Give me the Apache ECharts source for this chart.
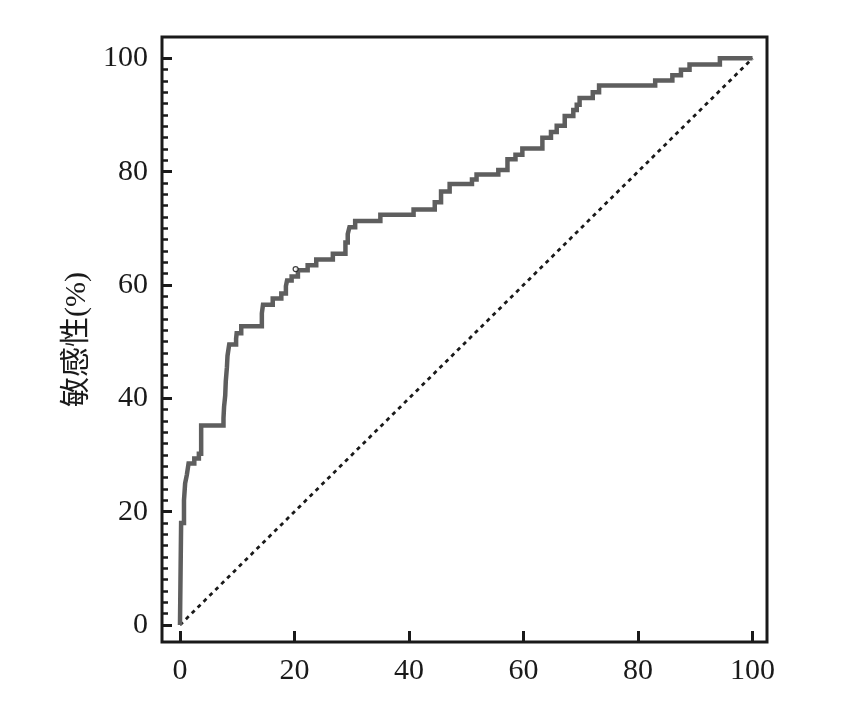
<!DOCTYPE html>
<html>
<head>
<meta charset="utf-8">
<script src="https://cdn.jsdelivr.net/npm/echarts@6/dist/echarts.min.js"></script>
<style>
html,body{margin:0;padding:0;background:#fff;}
#chart{width:842px;height:708px;}
</style>
</head>
<body>
<div id="chart"></div>
<script>
// False positive rate (1 - specificity, %) at the left end of each plateau
const fprValues = [0, 0.2, 0.7, 0.9, 1.2, 1.5, 2.5, 3.3, 3.7, 7.6, 7.7, 7.9, 8.0, 8.2, 8.3, 8.6, 9.8, 9.9, 10.7, 14.3, 14.5, 16.2, 17.7, 18.5, 18.7, 19.5, 20.6, 22.3, 23.8, 26.7, 28.9, 29.3, 29.6, 30.6, 35.0, 40.8, 44.5, 45.6, 47.1, 51.0, 51.8, 55.6, 57.2, 58.6, 59.8, 63.3, 64.8, 65.8, 67.2, 68.7, 69.3, 69.8, 72.1, 73.2, 83.0, 86.0, 87.5, 89.0, 94.3, 100];
// Sensitivity (%) of each plateau
const tprValues = [0, 18, 22, 25, 26.5, 28.5, 29.4, 30.2, 35.2, 36.5, 38.5, 40.5, 43, 45.5, 47.5, 49.5, 50.5, 51.5, 52.7, 55, 56.5, 57.6, 58.5, 59.8, 60.8, 61.5, 62.6, 63.5, 64.5, 65.5, 67.5, 69, 70.2, 71.3, 72.4, 73.3, 74.6, 76.5, 77.8, 78.6, 79.5, 80.3, 82.2, 83.0, 84.1, 86, 87, 88.1, 89.8, 90.9, 91.8, 93.0, 94, 95.2, 96.1, 97, 98, 98.9, 100, 100];
// Reference (chance) line
const diagonalX = [0, 100];
const diagonalY = [0, 100];
// Marked cut-off point
const cutoffPoint = [20.2, 62.8];
// Tick values
const majorTicks = [0, 20, 40, 60, 80, 100];
const yMinorTicks = [2, 4, 6, 8, 10, 12, 14, 16, 18, 22, 24, 26, 28, 30, 32, 34, 36, 38, 42, 44, 46, 48, 50, 52, 54, 56, 58, 62, 64, 66, 68, 70, 72, 74, 76, 78, 82, 84, 86, 88, 90, 92, 94, 96, 98];
const yAxisTitle = '敏感性(%)';

const rocData = fprValues.map((x, i) => [x, tprValues[i]]);
const diagData = diagonalX.map((x, i) => [x, diagonalY[i]]);

const serif = "'Liberation Serif', 'Times New Roman', 'Noto Sans CJK SC', serif";
const ink = '#1a1a1a';
// frame extents (axis box extends slightly beyond 0..100)
const xExt = [-3.14, 102.53];
const yExt = [-3.0, 103.76];

const chart = echarts.init(document.getElementById('chart'), null, {renderer: 'canvas'});
chart.setOption({
  backgroundColor: '#fff',
  animation: false,
  grid: [
    {left: 162, top: 37, width: 605, height: 605, show: true, borderWidth: 3, borderColor: ink, backgroundColor: 'transparent'}
  ],
  xAxis: [
    {
      type: 'value', min: xExt[0], max: xExt[1], position: 'bottom',
      axisLine: {show: false, onZero: false},
      axisTick: {show: true, inside: true, length: 11, customValues: majorTicks, lineStyle: {color: ink, width: 3}},
      splitLine: {show: false},
      axisLabel: {show: true, margin: 14, customValues: majorTicks, color: ink, fontSize: 30, fontFamily: serif}
    }
  ],
  yAxis: [
    {
      type: 'value', min: yExt[0], max: yExt[1], position: 'left', offset: 0,
      axisLine: {show: false, onZero: false},
      axisTick: {show: true, inside: true, length: 10, customValues: majorTicks, lineStyle: {color: ink, width: 3}},
      splitLine: {show: false},
      axisLabel: {show: true, margin: 14, customValues: majorTicks, color: ink, fontSize: 30, fontFamily: serif},
      name: yAxisTitle,
      nameLocation: 'middle',
      nameRotate: 90,
      nameGap: 57,
      nameTextStyle: {color: ink, fontSize: 30, fontFamily: serif}
    },
    {
      type: 'value', min: yExt[0], max: yExt[1], position: 'left', offset: 0,
      axisLine: {show: false, onZero: false},
      axisTick: {show: true, inside: true, length: 6, customValues: yMinorTicks, lineStyle: {color: ink, width: 2.5}},
      splitLine: {show: false},
      axisLabel: {show: false}
    }
  ],
  series: [
    {
      type: 'line', data: diagData, symbol: 'none',
      lineStyle: {color: ink, width: 2.8, type: [4, 4.3]},
      silent: true, z: 2
    },
    {
      type: 'line', data: rocData, step: 'end', symbol: 'none',
      lineStyle: {color: '#5e5e5e', width: 4.5, join: 'miter', cap: 'butt'},
      silent: true, z: 3
    },
    {
      type: 'scatter', data: [cutoffPoint], symbol: 'circle', symbolSize: 5,
      itemStyle: {color: '#fff', borderColor: '#111', borderWidth: 1.2},
      silent: true, z: 4
    }
  ]
});
</script>
</body>
</html>
